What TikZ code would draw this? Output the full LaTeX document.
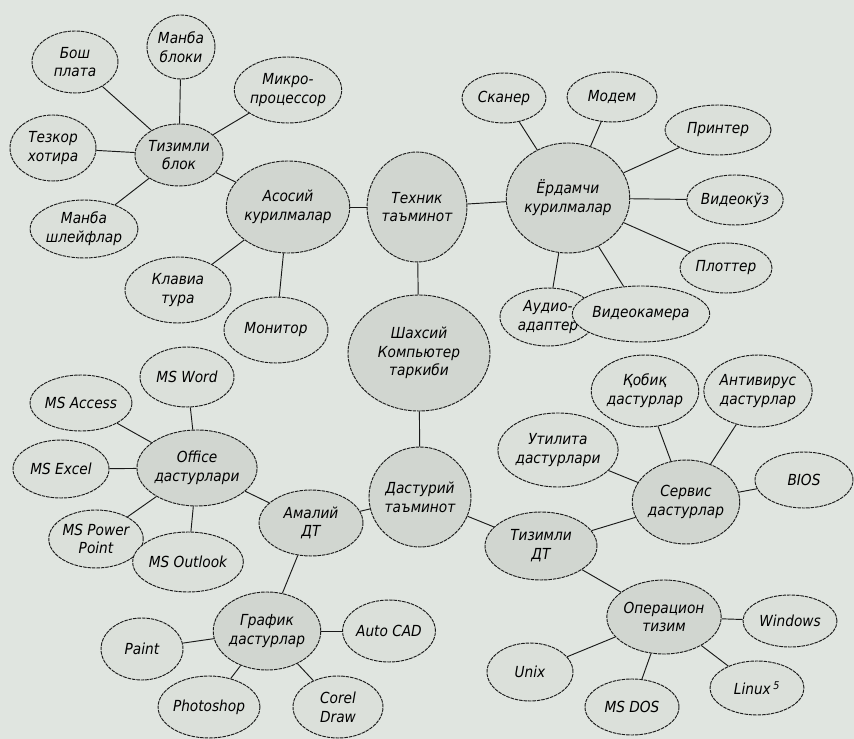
\documentclass[tikz,border=0pt]{standalone}
\usepackage{fontspec}
\setmainfont{DejaVu Sans Condensed}
\usetikzlibrary{shapes.geometric}
\definecolor{paper}{RGB}{224,229,224}
\definecolor{leafgrey}{RGB}{219,224,218}
\definecolor{hubgrey}{RGB}{209,214,208}
\tikzset{
  mapsec/.style={x=0.03cm,y=-0.03cm,font=\itshape\fontsize{13}{16}\selectfont},
  bub/.style 2 args={ellipse,draw=black!90,line width=0.8pt,dash pattern=on 3pt off 0.8pt,
    fill=leafgrey,inner sep=0pt,align=center,minimum width=#1*0.06cm,minimum height=#2*0.06cm},
  hub/.style={fill=hubgrey},
  link/.style={black!90,line width=0.8pt}
}

\begin{document}
\begin{tikzpicture}[mapsec]
    \fill[paper] (0,0) rectangle (854,739);
    \useasboundingbox (0,0) rectangle (854,739);
    % technical part
    \node[bub={43}{31}] (boshplata) at (75,62) {Бош\\плата};
    \node[bub={34}{32}] (manbablok) at (181,47) {Манба\\блоки};
    \node[bub={48}{33}] (mikro) at (288,90) {Микро-\\процессор};
    \node[bub={43}{33}] (tezkor) at (53,148) {Тезкор\\хотира};
    \node[bub={44}{31},hub] (tizblok) at (179,155) {Тизимли\\блок};
    \node[bub={46}{29}] (shleyf) at (84,229) {Манба\\шлейфлар};
    \node[bub={58}{46},hub] (asosiy) at (288,207) {Асосий\\курилмалар};
    \node[bub={53}{33}] (klaviatura) at (178,290) {Клавиа\\тура};
    \node[bub={52}{33}] (monitor) at (276,330) {Монитор};
    \node[bub={45}{55},hub] (texnik) at (417,207) {Техник\\таъминот};
    \node[bub={60}{55},hub] (yordamchi) at (568,198) {Ёрдамчи\\курилмалар};
    \node[bub={42}{25}] (skaner) at (504,98) {Сканер};
    \node[bub={45}{25}] (modem) at (612,97) {Модем};
    \node[bub={53}{25}] (printer) at (718,130) {Принтер};
    \node[bub={43}{25}] (videokuz) at (735,200) {Видеокўз};
    \node[bub={46}{25}] (plotter) at (726,268) {Плоттер};
    \node[bub={48}{29}] (audio) at (548,317) {Аудио-\\адаптер};
    \node[bub={47}{28}] (videokam) at (641,314) {Видеокамера};
    \node[bub={71}{58},hub] (shaxsiy) at (419,353) {Шахсий\\Компьютер\\таркиби};
    % software part
    \node[bub={51}{50},hub] (dasturiy) at (420,497) {Дастурий\\таъминот};
    \node[bub={56}{34},hub] (tizdt) at (541,546) {Тизимли\\ДТ};
    \node[bub={49}{42},hub] (servis) at (686,502) {Сервис\\дастурлар};
    \node[bub={52}{37}] (utilita) at (558,450) {Утилита\\дастурлари};
    \node[bub={48}{36}] (qobiq) at (645,391) {Қобиқ\\дастурлар};
    \node[bub={52}{36}] (antivirus) at (758,391) {Антивирус\\дастурлар};
    \node[bub={49}{28}] (bios) at (804,480) {BIOS};
    \node[bub={52}{37},hub] (operatsion) at (664,617) {Операцион\\тизим};
    \node[bub={47}{26}] (windows) at (790,621) {Windows};
    \node[bub={43}{29}] (unix) at (530,672) {Unix};
    \node[bub={47}{28}] (msdos) at (632,707) {MS DOS};
    \node[bub={47}{27}] (linux) at (757,688) {Linux\,\textsuperscript{5}};
    \node[bub={52}{33},hub] (amaliy) at (311,523) {Амалий\\ДТ};
    \node[bub={56}{38},hub] (office) at (197,468) {Office\\дастурлари};
    \node[bub={47}{30}] (msword) at (187,377) {MS Word};
    \node[bub={47}{28}] (msaccess) at (81,403) {MS Access};
    \node[bub={48}{29}] (msexcel) at (61,469) {MS Excel};
    \node[bub={47}{29}] (powerpoint) at (96,539) {MS Power\\Point};
    \node[bub={47}{30}] (outlook) at (188,562) {MS Outlook};
    \node[bub={53}{39},hub] (grafik) at (267,631) {График\\дастурлар};
    \node[bub={41}{31}] (paint) at (142,649) {Paint};
    \node[bub={39}{31}] (autocad) at (389,631) {Auto CAD};
    \node[bub={41}{31}] (photoshop) at (209,707) {Photoshop};
    \node[bub={45}{31}] (corel) at (338,707) {Corel\\Draw};
    % links
    \foreach \a/\b in {tizblok/boshplata,tizblok/manbablok,tizblok/mikro,tizblok/tezkor,
        tizblok/shleyf,tizblok/asosiy,asosiy/texnik,asosiy/klaviatura,asosiy/monitor,
        texnik/yordamchi,texnik/shaxsiy,yordamchi/skaner,yordamchi/modem,yordamchi/printer,
        yordamchi/videokuz,yordamchi/plotter,yordamchi/audio,yordamchi/videokam,
        shaxsiy/dasturiy,dasturiy/amaliy,dasturiy/tizdt,amaliy/office,amaliy/grafik,
        office/msword,office/msaccess,office/msexcel,office/powerpoint,office/outlook,
        grafik/paint,grafik/autocad,grafik/photoshop,grafik/corel,
        tizdt/servis,tizdt/operatsion,servis/utilita,servis/qobiq,servis/antivirus,servis/bios,
        operatsion/windows,operatsion/unix,operatsion/msdos,operatsion/linux}
      \draw[link] (\a) -- (\b);
\end{tikzpicture}
\end{document}
